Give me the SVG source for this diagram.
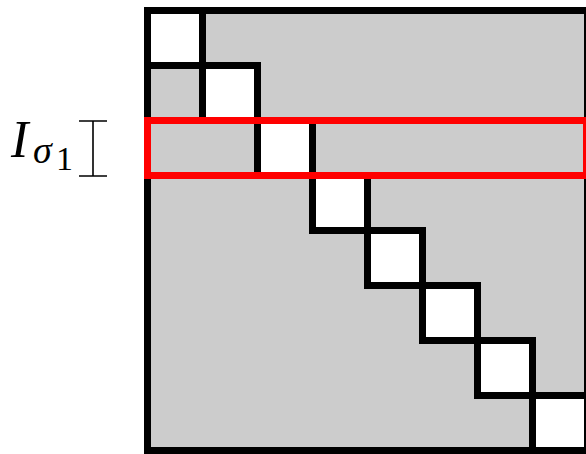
<svg xmlns="http://www.w3.org/2000/svg" width="586" height="454" viewBox="0 0 586 454">
<style>
.blk{fill:#fff;stroke:#000;stroke-width:7}
.lbl{font-family:"Liberation Serif",serif;font-style:italic;fill:#000}
</style>
<rect width="586" height="454" fill="#fff"/>
<g id="matrix">
<rect x="147.5" y="10.5" width="440" height="440" fill="#cccccc" stroke="#000" stroke-width="7"/>
</g>
<g id="blocks">
<rect class="blk" x="147.5" y="10.5" width="55" height="55"/>
<rect class="blk" x="202.5" y="65.5" width="55" height="55"/>
<rect class="blk" x="257.5" y="120.5" width="55" height="55"/>
<rect class="blk" x="312.5" y="175.5" width="55" height="55"/>
<rect class="blk" x="367.5" y="230.5" width="55" height="55"/>
<rect class="blk" x="422.5" y="285.5" width="55" height="55"/>
<rect class="blk" x="477.5" y="340.5" width="55" height="55"/>
<rect class="blk" x="532.5" y="395.5" width="55" height="55"/>
</g>
<g id="highlight">
<rect x="147.5" y="120.5" width="439" height="55" fill="none" stroke="#ff0000" stroke-width="7"/>
</g>
<g id="label">
<path d="M79 121H107M93 121V176M79 176H107" fill="none" stroke="#000" stroke-width="1.6"/>
<text class="lbl" x="11" y="157" font-size="52">I</text>
<text class="lbl" x="33" y="163" font-size="38">σ</text>
<text x="56" y="170" font-size="34" font-family="Liberation Serif,serif">1</text>
</g>
</svg>
